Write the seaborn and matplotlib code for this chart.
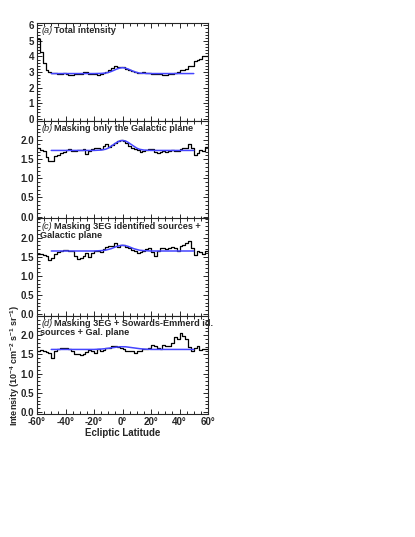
import numpy as np
import pandas as pd
import matplotlib
matplotlib.use("Agg")
import matplotlib.pyplot as plt
from matplotlib.ticker import MultipleLocator, FixedLocator
import seaborn as sns

# ---------------- data ----------------
bin_edges = list(range(-60, 62, 2))  # 2-degree bins

total_intensity = [5.1, 4.3, 3.6, 3.1, 3.0, 2.95, 2.95, 2.9, 2.9, 2.95,
                   2.85, 2.8, 2.8, 2.85, 2.9, 2.9, 3.0, 3.0, 2.9, 2.9,
                   2.85, 2.8, 2.9, 2.95, 3.0, 3.1, 3.25, 3.4, 3.35, 3.3,
                   3.3, 3.2, 3.1, 3.05, 3.0, 2.95, 2.95, 3.0, 2.95, 2.95,
                   2.9, 2.9, 2.9, 2.85, 2.8, 2.8, 2.85, 2.9, 2.95, 3.0,
                   3.1, 3.1, 3.2, 3.4, 3.4, 3.7, 3.8, 3.85, 4.0, 4.0]

mask_plane = [1.8, 1.75, 1.72, 1.55, 1.45, 1.45, 1.58, 1.6, 1.65, 1.68,
              1.75, 1.78, 1.72, 1.72, 1.75, 1.75, 1.78, 1.65, 1.72, 1.78,
              1.8, 1.8, 1.78, 1.85, 1.9, 1.82, 1.88, 1.92, 1.97, 2.0,
              1.97, 1.92, 1.85, 1.8, 1.76, 1.74, 1.7, 1.72, 1.75, 1.76,
              1.78, 1.68, 1.66, 1.7, 1.72, 1.7, 1.72, 1.73, 1.72, 1.72,
              1.78, 1.8, 1.8, 1.9, 1.8, 1.6, 1.65, 1.75, 1.72, 1.82]

mask_3eg = [1.56, 1.58, 1.55, 1.52, 1.42, 1.48, 1.58, 1.62, 1.65, 1.68,
            1.68, 1.66, 1.65, 1.52, 1.45, 1.47, 1.52, 1.6, 1.5, 1.6,
            1.65, 1.66, 1.62, 1.7, 1.75, 1.78, 1.78, 1.85, 1.75, 1.8,
            1.8, 1.75, 1.72, 1.68, 1.65, 1.6, 1.62, 1.65, 1.7, 1.72,
            1.62, 1.52, 1.65, 1.72, 1.72, 1.7, 1.72, 1.75, 1.72, 1.65,
            1.78, 1.8, 1.85, 1.9, 1.72, 1.55, 1.65, 1.62, 1.58, 1.65]

mask_3eg_se = [1.6, 1.62, 1.6, 1.57, 1.55, 1.42, 1.6, 1.63, 1.66, 1.68,
               1.68, 1.64, 1.58, 1.5, 1.5, 1.48, 1.5, 1.56, 1.62, 1.6,
               1.55, 1.65, 1.6, 1.62, 1.68, 1.68, 1.72, 1.72, 1.7, 1.66,
               1.64, 1.6, 1.58, 1.58, 1.55, 1.58, 1.6, 1.63, 1.65, 1.68,
               1.75, 1.72, 1.68, 1.65, 1.75, 1.72, 1.72, 1.8, 1.95, 1.9,
               2.05, 1.98, 1.9, 1.7, 1.6, 1.68, 1.72, 1.62, 1.65, 1.65]

# model curves (blue), read at selected latitudes
model_lat = [-50, -20, -15, -12, -10, -8, -6, -4, -2, 0, 2, 4, 6, 8, 10, 12, 15, 20, 50]
model_a = [2.9, 2.9, 2.91, 2.93, 2.97, 3.03, 3.11, 3.19, 3.25, 3.28, 3.25, 3.19, 3.11, 3.03, 2.97, 2.93, 2.91, 2.9, 2.9]
model_b = [1.73, 1.73, 1.74, 1.76, 1.79, 1.84, 1.89, 1.94, 1.98, 1.99, 1.98, 1.94, 1.89, 1.84, 1.79, 1.76, 1.74, 1.73, 1.73]
model_c = [1.65, 1.65, 1.66, 1.67, 1.69, 1.71, 1.74, 1.77, 1.79, 1.80, 1.79, 1.77, 1.74, 1.71, 1.69, 1.67, 1.66, 1.65, 1.65]
model_d = [1.63, 1.63, 1.64, 1.65, 1.66, 1.67, 1.68, 1.69, 1.70, 1.70, 1.70, 1.69, 1.68, 1.67, 1.66, 1.65, 1.64, 1.63, 1.63]

panel_tags = ["(a)", "(b)", "(c)", "(d)"]
panel_titles = ["Total intensity",
                "Masking only the Galactic plane",
                "Masking 3EG identified sources +",
                "Masking 3EG + Sowards-Emmerd id."]
panel_titles2 = [None, None, "Galactic plane", "sources + Gal. plane"]
x_ticks = [-60, -40, -20, 0, 20, 40, 60]
x_ticklabels = ["-60°", "-40°", "-20°", "0°", "20°", "40°", "60°"]

# ---------------- style ----------------
sns.set_theme(style="ticks")
plt.rcParams["font.family"] = ["Liberation Sans", "DejaVu Sans"]
plt.rcParams["font.weight"] = "bold"
plt.rcParams["mathtext.default"] = "regular"

fig = plt.figure(figsize=(4.15, 5.37), dpi=100)
W, H = 415.0, 537.0
left_px, right_px = 37.0, 208.0
bounds = [23.0, 121.0, 218.5, 316.0, 414.0]
title_fs = 6.6

series = [total_intensity, mask_plane, mask_3eg, mask_3eg_se]
models = [model_a, model_b, model_c, model_d]
centers = [(bin_edges[i] + bin_edges[i + 1]) / 2 for i in range(len(bin_edges) - 1)]

for i in range(4):
    top, bot = bounds[i], bounds[i + 1]
    ax = fig.add_axes([left_px / W, 1 - bot / H, (right_px - left_px) / W, (bot - top) / H])
    df = pd.DataFrame({"lat": centers, "val": series[i]})
    sns.histplot(data=df, x="lat", weights="val", bins=bin_edges, element="step",
                 fill=False, color="black", linewidth=0.9, ax=ax)
    mdf = pd.DataFrame({"lat": model_lat, "val": models[i]})
    sns.lineplot(data=mdf, x="lat", y="val", color="#4545ff", linewidth=1.1, ax=ax)

    ax.set_xlim(-60, 60)
    if i == 0:
        ax.set_ylim(-0.15, 6.15)
        ax.yaxis.set_major_locator(FixedLocator([0, 1, 2, 3, 4, 5, 6]))
        ax.yaxis.set_minor_locator(MultipleLocator(0.2))
        ax.set_yticklabels(["0", "1", "2", "3", "4", "5", "6"])
    else:
        ax.set_ylim(-0.05, 2.5)
        ax.yaxis.set_major_locator(FixedLocator([0.0, 0.5, 1.0, 1.5, 2.0]))
        ax.yaxis.set_minor_locator(MultipleLocator(0.1))
        ax.set_yticklabels(["0.0", "0.5", "1.0", "1.5", "2.0"])
    ax.xaxis.set_major_locator(FixedLocator(x_ticks))
    ax.xaxis.set_minor_locator(MultipleLocator(5))
    ax.tick_params(which="both", direction="in", top=True, right=True, labelsize=7, width=0.7,
                   pad=2)
    ax.tick_params(which="major", length=3.5)
    ax.tick_params(which="minor", length=2)
    for s in ax.spines.values():
        s.set_linewidth(0.8)
        s.set_visible(True)

    if i == 3:
        ax.set_xticklabels(x_ticklabels)
        ax.set_xlabel("Ecliptic Latitude", fontsize=7, fontweight="bold", labelpad=1)
        ax.set_ylabel("Intensity (10$^{-4}$ cm$^{-2}$ s$^{-1}$ sr$^{-1}$)", fontsize=6.5,
                      fontweight="bold")
        ax.yaxis.set_label_coords(-0.09, 0.5)
    else:
        ax.set_xticklabels([])
        ax.set_xlabel("")
        ax.set_ylabel("")
    for lab in ax.get_yticklabels() + ax.get_xticklabels():
        lab.set_fontweight("bold")

    t1 = ax.text(0.025, 0.965, panel_tags[i], transform=ax.transAxes, fontsize=title_fs,
                 style="italic", fontweight="normal", va="top", ha="left")
    ax.annotate(panel_titles[i], xy=(1, 0), xycoords=t1, xytext=(1.2, 0),
                textcoords="offset points", va="bottom", ha="left", fontsize=title_fs,
                fontweight="bold")
    if panel_titles2[i]:
        ax.annotate(panel_titles2[i], xy=(0, 0), xycoords=t1, xytext=(-1, 0.1),
                    textcoords="offset points", va="top", ha="left", fontsize=title_fs,
                    fontweight="bold")

fig.savefig("out.png", dpi=100)
